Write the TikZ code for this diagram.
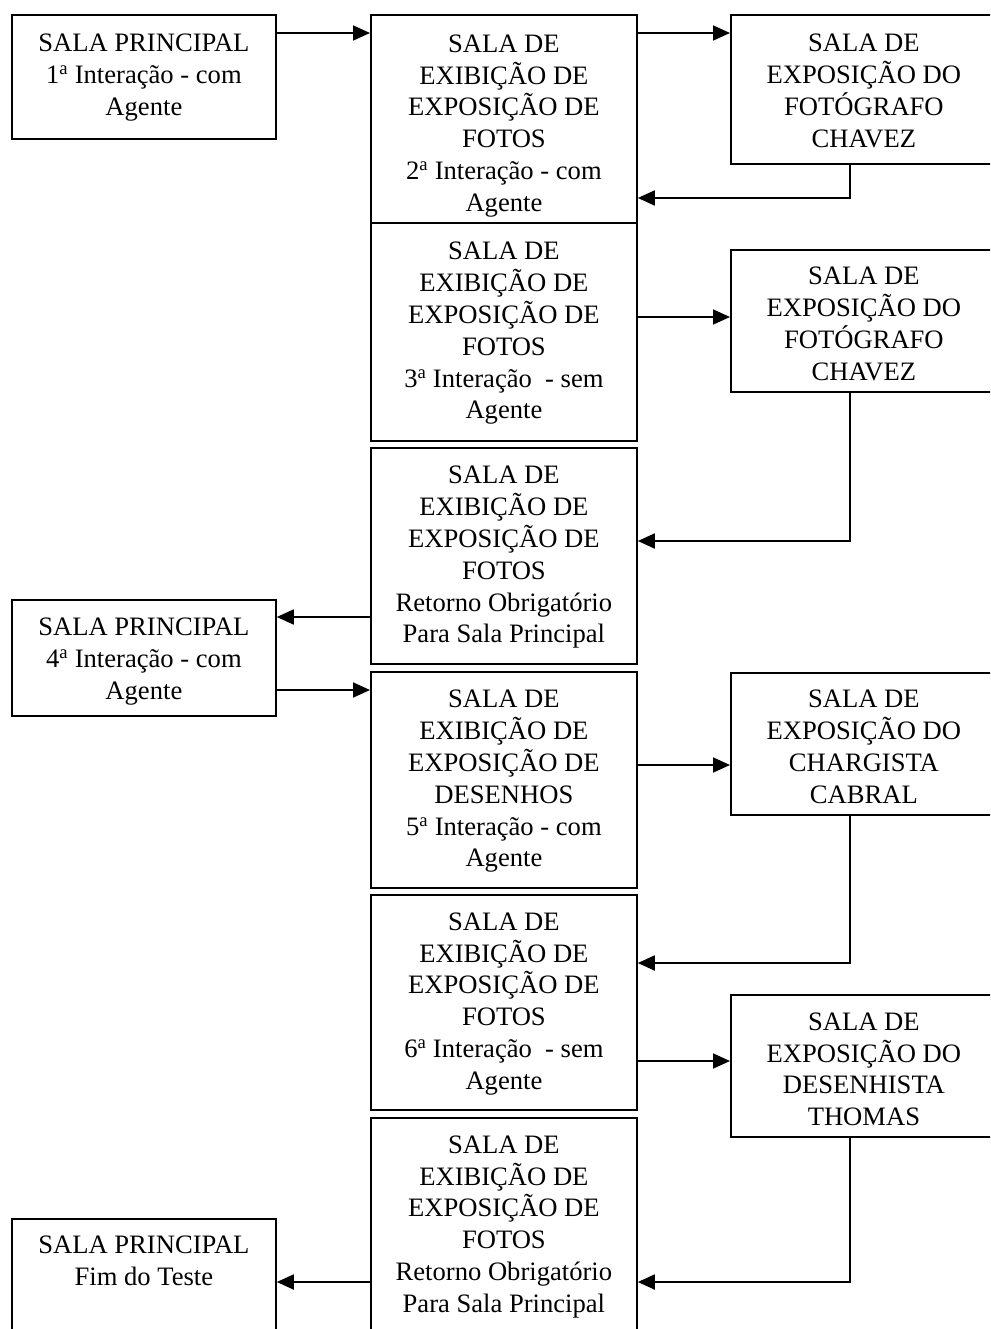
\documentclass[tikz,border=0pt]{standalone}
\usepackage{fontspec}
\setmainfont{Liberation Serif}
\usetikzlibrary{arrows.meta}
\newcommand{\sa}{\textsuperscript{a}}
\tikzset{
  room/.style={draw, line width=1.8pt, rectangle, anchor=north west, inner sep=0pt},
  lbox/.style={room, minimum width=264pt},
  mbox/.style={room, minimum width=266pt},
  rbox/.style={room, minimum width=266pt},
  txt/.style={inner sep=0pt, align=center, font=\fontsize{26.6}{31.8}\selectfont},
  arr/.style={line width=1.8pt, -{Triangle[length=17pt,width=15pt]}},
}
\begin{document}
\begin{tikzpicture}[x=1pt,y=-1pt]
\useasboundingbox (0,0) rectangle (990,1329);
\clip (0,0) rectangle (990,1329);
% left column
\node[lbox, minimum height=124pt] (L1) at (11,14) {};
\node[txt] (L1t) at ([yshift=-0.5pt]L1.center) {SALA PRINCIPAL\\1\sa{} Interação - com\\Agente};
\node[lbox, minimum height=116pt] (L2) at (11,599) {};
\node[txt] (L2t) at ([yshift=-3.5pt]L2.center) {SALA PRINCIPAL\\4\sa{} Interação - com\\Agente};
\node[lbox, minimum height=150pt] (L3) at (11,1218) {};
\node[txt, anchor=north] (L3t) at ([yshift=-18pt]L3.north) {SALA PRINCIPAL\\Fim do Teste};
% middle column
\node[mbox, minimum height=208pt] (M1) at (370,14) {};
\node[txt] (M1t) at ([yshift=-7pt]M1.center) {SALA DE\\EXIBIÇÃO DE\\EXPOSIÇÃO DE\\FOTOS\\2\sa{} Interação - com\\Agente};
\node[mbox, minimum height=218pt] (M2) at (370,222) {};
\node[txt] (M2t) at ([yshift=-1.5pt]M2.center) {SALA DE\\EXIBIÇÃO DE\\EXPOSIÇÃO DE\\FOTOS\\3\sa{} Interação \ - sem\\Agente};
\node[mbox, minimum height=216pt] (M3) at (370,447) {};
\node[txt] (M3t) at ([yshift=-1.5pt]M3.center) {SALA DE\\EXIBIÇÃO DE\\EXPOSIÇÃO DE\\FOTOS\\Retorno Obrigatório\\Para Sala Principal};
\node[mbox, minimum height=216pt] (M4) at (370,671) {};
\node[txt] (M4t) at ([yshift=-1.5pt]M4.center) {SALA DE\\EXIBIÇÃO DE\\EXPOSIÇÃO DE\\DESENHOS\\5\sa{} Interação - com\\Agente};
\node[mbox, minimum height=215pt] (M5) at (370,894) {};
\node[txt] (M5t) at ([yshift=-1.5pt]M5.center) {SALA DE\\EXIBIÇÃO DE\\EXPOSIÇÃO DE\\FOTOS\\6\sa{} Interação \ - sem\\Agente};
\node[mbox, minimum height=215pt] (M6) at (370,1117) {};
\node[txt] (M6t) at ([yshift=-1.5pt]M6.center) {SALA DE\\EXIBIÇÃO DE\\EXPOSIÇÃO DE\\FOTOS\\Retorno Obrigatório\\Para Sala Principal};
% right column
\node[rbox, minimum height=149pt] (R1) at (730,14) {};
\node[txt] (R1t) at ([yshift=-1.5pt]R1.center) {SALA DE\\EXPOSIÇÃO DO\\FOTÓGRAFO\\CHAVEZ};
\node[rbox, minimum height=142pt] (R2) at (730,249) {};
\node[txt] (R2t) at ([yshift=-3pt]R2.center) {SALA DE\\EXPOSIÇÃO DO\\FOTÓGRAFO\\CHAVEZ};
\node[rbox, minimum height=142pt] (R3) at (730,672) {};
\node[txt] (R3t) at ([yshift=-3pt]R3.center) {SALA DE\\EXPOSIÇÃO DO\\CHARGISTA\\CABRAL};
\node[rbox, minimum height=142pt] (R4) at (730,994) {};
\node[txt] (R4t) at ([yshift=-3.5pt]R4.center) {SALA DE\\EXPOSIÇÃO DO\\DESENHISTA\\THOMAS};
% connectors
\draw[arr] (L1.east |- 0,33) -- (M1.west |- 0,33);
\draw[arr] (M1.east |- 0,33) -- (R1.west |- 0,33);
\draw[arr] (R1.south -| 850,0) |- (M1.east |- 0,198);
\draw[arr] (M2.east |- 0,317) -- (R2.west |- 0,317);
\draw[arr] (R2.south -| 850,0) |- (M3.east |- 0,541);
\draw[arr] (M3.west |- 0,617) -- (L2.east |- 0,617);
\draw[arr] (L2.east |- 0,690) -- (M4.west |- 0,690);
\draw[arr] (M4.east |- 0,765) -- (R3.west |- 0,765);
\draw[arr] (R3.south -| 850,0) |- (M5.east |- 0,963);
\draw[arr] (M5.east |- 0,1061) -- (R4.west |- 0,1061);
\draw[arr] (R4.south -| 850,0) |- (M6.east |- 0,1282);
\draw[arr] (M6.west |- 0,1282) -- (L3.east |- 0,1282);
\end{tikzpicture}
\end{document}
